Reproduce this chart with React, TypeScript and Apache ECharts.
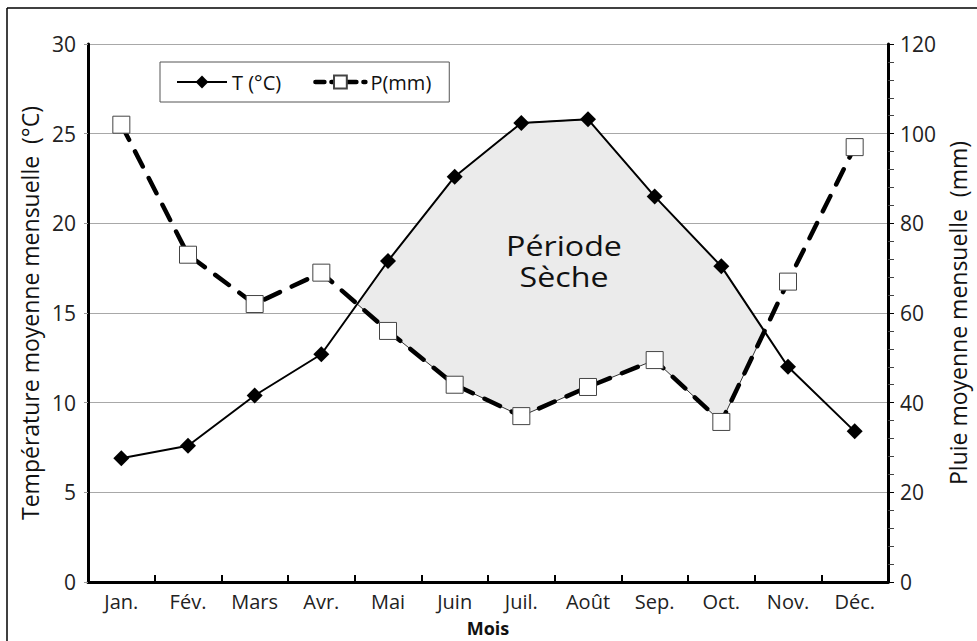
import React, { useEffect, useRef } from 'react';
import * as echarts from 'echarts';

const months = ['Jan.', 'Fév.', 'Mars', 'Avr.', 'Mai', 'Juin', 'Juil.', 'Août', 'Sep.', 'Oct.', 'Nov.', 'Déc.'];
const temperature = [6.9, 7.6, 10.4, 12.7, 17.9, 22.6, 25.6, 25.8, 21.5, 17.6, 12.0, 8.4];
const precipitation = [102, 73, 62, 69, 56, 44, 37, 43.5, 49.5, 35.7, 67, 97];
const tempAxis = { min: 0, max: 30, interval: 5 };
const rainAxis = { min: 0, max: 120, interval: 20 };
const seriesNames = ['T (°C)', 'P(mm)'];
const areaLabel = ['Période', 'Sèche'];

const FONT = '"Open Sans", "DejaVu Sans", sans-serif';

function renderDryArea(params: any, api: any) {
  const ratio = rainAxis.max / tempAxis.max;
  const n = months.length;
  const ptT = (i: number) => api.coord([i, temperature[i]]);
  const ptP = (i: number) => api.coord([i, precipitation[i] / ratio]);
  const d = (i: number) => temperature[i] - precipitation[i] / ratio;
  const lerp = (a: number[], b: number[], t: number) => [a[0] + (b[0] - a[0]) * t, a[1] + (b[1] - a[1]) * t];
  const children: any[] = [];
  let upper: number[][] = [];
  let lower: number[][] = [];
  const style = { fill: '#ebebeb', stroke: '#333', lineWidth: 1 };
  for (let i = 0; i < n; i++) {
    if (d(i) > 0) {
      upper.push(ptT(i));
      lower.push(ptP(i));
    }
    if (i < n - 1) {
      const a = d(i);
      const b = d(i + 1);
      if ((a > 0) !== (b > 0)) {
        const t = a / (a - b);
        const c = lerp(ptT(i), ptT(i + 1), t);
        upper.push(c);
        lower.push(c);
        if (a > 0) {
          children.push({ type: 'polygon', shape: { points: upper.concat(lower.slice().reverse()) }, style });
          upper = [];
          lower = [];
        }
      }
    }
  }
  if (upper.length) {
    children.push({ type: 'polygon', shape: { points: upper.concat(lower.slice().reverse()) }, style });
  }
  return { type: 'group', children };
}

export default function App() {
  const ref = useRef<HTMLDivElement>(null);
  useEffect(() => {
    if (!ref.current) return;
    const chart = echarts.init(ref.current, null, { renderer: 'svg' });
    chart.setOption({
      animation: false,
      backgroundColor: '#fff',
      textStyle: { fontFamily: FONT },
      grid: { left: 88, right: 89, top: 44, bottom: 59, containLabel: false, outerBoundsMode: 'none' },
      legend: {
        data: [
          { name: seriesNames[0], lineStyle: { width: 2, color: '#000' } },
          { name: seriesNames[1], lineStyle: { width: 4.5, color: '#000', type: [9, 7], cap: 'round' } },
        ],
        left: 160,
        top: 62,
        orient: 'horizontal',
        borderColor: '#555',
        borderWidth: 1,
        borderRadius: 0,
        padding: [10, 18, 10, 16],
        itemWidth: 50,
        itemHeight: 16,
        itemGap: 32,
        textStyle: { fontFamily: FONT, fontSize: 20, color: '#111' },
      },
      xAxis: {
        type: 'category',
        data: months,
        boundaryGap: true,
        name: 'Mois',
        nameLocation: 'middle',
        nameGap: 37,
        nameTextStyle: { fontFamily: FONT, fontSize: 18, fontWeight: 'bold', color: '#111' },
        axisLine: { lineStyle: { color: '#000', width: 3 } },
        axisTick: { show: true, inside: true, length: 7, lineStyle: { color: '#000', width: 2 } },
        axisLabel: { fontFamily: FONT, fontSize: 20, color: '#222', margin: 9 },
      },
      yAxis: [
        {
          type: 'value',
          min: tempAxis.min,
          max: tempAxis.max,
          interval: tempAxis.interval,
          name: 'Température moyenne mensuelle  (°C)',
          nameLocation: 'middle',
          nameGap: 42,
          nameTextStyle: { fontFamily: FONT, fontSize: 23, color: '#111' },
          axisLine: { show: true, lineStyle: { color: '#000', width: 3 } },
          axisTick: { show: true, length: 4, lineStyle: { color: '#999', width: 1 } },
          axisLabel: { fontFamily: FONT, fontSize: 21, color: '#222', margin: 12 },
          splitLine: { show: true, lineStyle: { color: '#a8a8a8', width: 1 } },
        },
        {
          type: 'value',
          min: rainAxis.min,
          max: rainAxis.max,
          interval: rainAxis.interval,
          position: 'right',
          name: 'Pluie moyenne mensuelle  (mm)',
          nameLocation: 'middle',
          nameGap: 57,
          nameRotate: 90,
          nameTextStyle: { fontFamily: FONT, fontSize: 23, color: '#111' },
          axisLine: { show: true, lineStyle: { color: '#000', width: 3 } },
          axisTick: { show: true, length: 6, lineStyle: { color: '#000', width: 1 } },
          minorTick: { show: true, splitNumber: 5, length: 6, lineStyle: { color: '#444', width: 1 } },
          axisLabel: { fontFamily: FONT, fontSize: 21, color: '#222', margin: 12 },
          splitLine: { show: false },
        },
      ],
      series: [
        {
          type: 'custom',
          name: 'dry',
          xAxisIndex: 0,
          yAxisIndex: 0,
          data: [0],
          z: 1,
          silent: true,
          renderItem: renderDryArea,
        },
        {
          type: 'line',
          name: seriesNames[0],
          yAxisIndex: 0,
          data: temperature,
          symbol: 'diamond',
          symbolSize: 16,
          z: 3,
          itemStyle: { color: '#000' },
          lineStyle: { color: '#000', width: 2 },
        },
        {
          type: 'line',
          name: seriesNames[1],
          yAxisIndex: 1,
          data: precipitation,
          symbol: 'rect',
          symbolSize: 17,
          z: 4,
          itemStyle: { color: '#fff', borderColor: '#444', borderWidth: 1 },
          lineStyle: { color: '#000', width: 4.5, type: [17, 13], cap: 'round' },
        },
      ],
      graphic: [
        { type: 'line', shape: { x1: 7, y1: 8, x2: 977, y2: 8 }, style: { stroke: '#000', lineWidth: 1.5 } },
        { type: 'line', shape: { x1: 7, y1: 8, x2: 7, y2: 641 }, style: { stroke: '#000', lineWidth: 1.5 } },
        {
          type: 'text',
          x: 564,
          y: 245,
          z: 10,
          scaleX: 1.15,
          style: {
            text: areaLabel[0],
            fill: '#111',
            font: '28px "Open Sans", sans-serif',
            align: 'center',
            verticalAlign: 'middle',
          },
        },
        {
          type: 'text',
          x: 564,
          y: 276,
          z: 10,
          scaleX: 1.15,
          style: {
            text: areaLabel[1],
            fill: '#111',
            font: '28px "Open Sans", sans-serif',
            align: 'center',
            verticalAlign: 'middle',
          },
        },
      ],
    });
    return () => chart.dispose();
  }, []);
  return <div ref={ref} style={{ position: 'fixed', left: 0, top: 0, width: 977, height: 641 }} />;
}
